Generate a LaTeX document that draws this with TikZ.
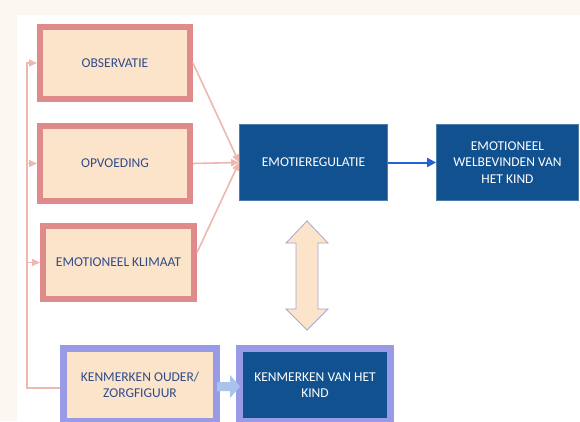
\documentclass[tikz,border=0pt]{standalone}
\usepackage{fontspec}
\setmainfont{Carlito}
\usetikzlibrary{arrows.meta,calc}
\definecolor{bgbeige}{HTML}{FCF7F1}
\definecolor{pinkbd}{HTML}{DF8B8B}
\definecolor{beigefill}{HTML}{FCE4CB}
\definecolor{darkblue}{HTML}{11518F}
\definecolor{txtblue}{HTML}{2F4C8A}
\definecolor{connpink}{HTML}{EDB8AE}
\definecolor{arrowblue}{HTML}{2262D2}
\definecolor{lavbd}{HTML}{999BE7}
\definecolor{lightblue}{HTML}{A9C3EC}
\definecolor{dblstroke}{HTML}{A3A9CC}
\begin{document}
\begin{tikzpicture}[x=1pt,y=-1pt,
  every node/.style={font=\fontsize{13.5}{16.5}\selectfont, align=center, inner sep=0pt},
  pinkbox/.style={draw=pinkbd, line width=6pt, fill=beigefill, text=txtblue},
  bluebox/.style={fill=darkblue, draw=darkblue!75!white, line width=0.8pt, text=white},
  lavbox/.style={draw=lavbd, line width=7pt},
  conn/.style={draw=connpink, line width=1.6pt, -{Triangle[length=8pt,width=7pt]}},
]
\useasboundingbox (0,0) rectangle (580,421);
\clip (0,0) rectangle (580,421);
\fill[bgbeige] (0,0) rectangle (580,421);
\fill[white] (17,15) rectangle (580,421);

\node[pinkbox, minimum width=150pt, minimum height=72pt] (obs) at (115,63) {OBSERVATIE};
\node[pinkbox, minimum width=150pt, minimum height=75pt] (opv) at (115,163.5) {OPVOEDING};
\node[pinkbox, minimum width=151pt, minimum height=73pt] (klim) at (118.5,262.5) {EMOTIONEEL KLIMAAT};

\node[bluebox, minimum width=148pt, minimum height=76pt] (emo) at (313.5,162.5) {EMOTIEREGULATIE};
\node[bluebox, minimum width=142pt, minimum height=76pt] (wel) at (507.5,162.5) {EMOTIONEEL\\WELBEVINDEN VAN\\HET KIND};

\node[lavbox, fill=beigefill, text=txtblue, minimum width=153pt, minimum height=73pt] (ouder) at (140,385) {KENMERKEN OUDER/\\ZORGFIGUUR};
\node[lavbox, fill=darkblue, text=white, minimum width=151pt, minimum height=73pt] (kind) at (315,385) {KENMERKEN VAN HET\\KIND};

% left feedback bus
\coordinate (bus) at (27,63);
\draw[conn] ([yshift=-3pt]ouder.west) -| (bus) -- (obs.west);
\draw[conn] (opv.west -| bus) -- (opv.west);
\draw[conn] (klim.west -| bus) -- (klim.west);

% converging connectors
\draw[conn] (obs.east) -- (emo.west);
\draw[conn] (opv.east) -- (emo.west);
\draw[conn] ([yshift=10pt]klim.east) -- (emo.west);

% blue arrow
\draw[arrowblue, line width=2pt, -{Triangle[length=9pt,width=9pt]}] (emo.east) -- (wel.west);

% double arrow
\draw[fill=beigefill, draw=dblstroke, line width=0.8pt, line join=miter]
  (307,221) -- (328,243) -- (318,243) -- (318,309) -- (328,309) -- (307,330)
  -- (286,309) -- (296,309) -- (296,243) -- (286,243) -- cycle;

% small block arrow between bottom boxes
\fill[lightblue] (217,382) -- (230,382) -- (230,375) -- (240,386.5) -- (230,398)
  -- (230,391) -- (217,391) -- cycle;
\end{tikzpicture}
\end{document}
